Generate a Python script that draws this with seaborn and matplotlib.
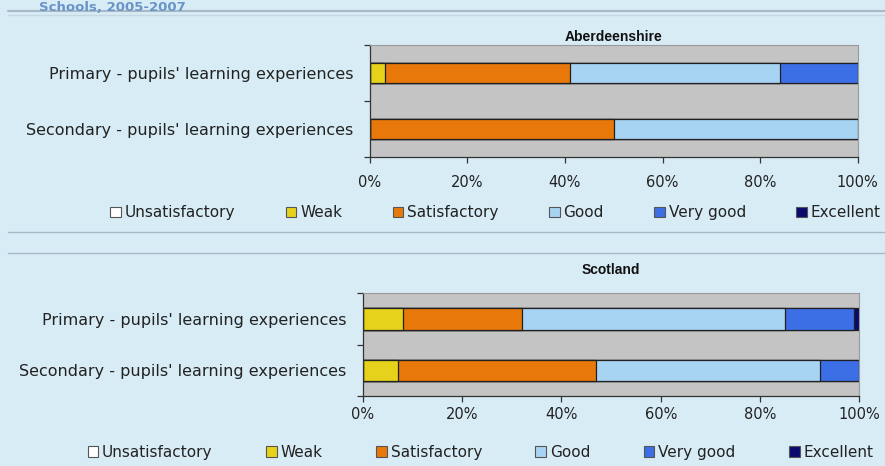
import matplotlib
matplotlib.use("Agg")
import matplotlib.pyplot as plt
from matplotlib.lines import Line2D
from matplotlib.patches import Patch
from matplotlib.ticker import PercentFormatter, FixedLocator
import seaborn as sns
import pandas as pd

categories = ["Primary - pupils' learning experiences",
              "Secondary - pupils' learning experiences"]
levels = ["Unsatisfactory", "Weak", "Satisfactory", "Good", "Very good", "Excellent"]
colors = ["#ffffff", "#e6d21a", "#e8780a", "#a8d4f4", "#3c6ee6", "#0a0a6e"]

# Aberdeenshire (%)
ab_unsat = [0, 0]
ab_weak = [3, 0]
ab_sat = [38, 50]
ab_good = [43, 50]
ab_vgood = [16, 0]
ab_exc = [0, 0]

# Scotland (%)
sc_unsat = [0, 0]
sc_weak = [8, 7]
sc_sat = [24, 40]
sc_good = [53, 45]
sc_vgood = [14, 8]
sc_exc = [1, 0]

sns.set_theme(style="white")
plt.rcParams["font.family"] = ["DejaVu Sans"]

bg = "#d8ecf6"
fig = plt.figure(figsize=(8.85, 4.66), dpi=100, facecolor=bg)


def stacked(ax, series, title, width, tpad, xpad):
    df = pd.DataFrame(dict(zip(levels, series)), index=categories)
    cum = df.cumsum(axis=1)
    # draw the cumulative totals back to front so they look stacked
    for lev, col in reversed(list(zip(levels, colors))):
        d = pd.DataFrame({"cat": categories, "val": cum[lev].values})
        sns.barplot(data=d, x="val", y="cat", orient="h", color=col, width=width,
                    edgecolor="#202020", linewidth=0.9, saturation=1, ax=ax)
    ax.set_facecolor("#c4c4c4")
    ax.set_xlim(0, 100)
    ax.set_ylim(1.5, -0.5)
    ax.set_xlabel("")
    ax.set_ylabel("")
    ax.set_xticks([0, 20, 40, 60, 80, 100])
    ax.xaxis.set_major_formatter(PercentFormatter(decimals=0))
    ax.yaxis.set_minor_locator(FixedLocator([-0.5, 0.5, 1.5]))
    ax.tick_params(axis="y", which="major", length=0, pad=12, labelsize=11.5, labelcolor="#222222")
    ax.tick_params(axis="y", which="minor", left=True, length=4, width=0.9, color="#333333")
    ax.tick_params(axis="x", bottom=True, length=4, width=0.9, color="#333333", pad=xpad,
                   labelsize=10.5, labelcolor="#222222")
    for s in ["left", "bottom"]:
        ax.spines[s].set_color("#333333")
        ax.spines[s].set_linewidth(0.9)
    for s in ["top", "right"]:
        ax.spines[s].set_color("#9a9a9a")
        ax.spines[s].set_linewidth(0.8)
    ax.set_title(title, fontsize=10, fontweight="bold", color="#111111", pad=tpad,
                 family=["Liberation Sans"])
    handles = [Patch(facecolor=c, edgecolor="#555555", linewidth=0.8) for c in colors]
    return handles


leg_kw = dict(loc="center", bbox_transform=fig.transFigure, ncol=6, frameon=False,
              fontsize=11, handlelength=0.7, handleheight=0.7, handletextpad=0.25,
              labelcolor="#222222")

ax1 = fig.add_axes([0.418, 0.663, 0.551, 0.240])
h = stacked(ax1, [ab_unsat, ab_weak, ab_sat, ab_good, ab_vgood, ab_exc], "Aberdeenshire", 0.36, 3, 9)
ax1.legend(h, levels, bbox_to_anchor=(0.56, 0.543), columnspacing=3.3, **leg_kw)

ax2 = fig.add_axes([0.410, 0.150, 0.561, 0.221])
h = stacked(ax2, [sc_unsat, sc_weak, sc_sat, sc_good, sc_vgood, sc_exc], "Scotland", 0.42, 14, 4)
ax2.legend(h, levels, bbox_to_anchor=(0.543, 0.030), columnspacing=3.5, **leg_kw)

# page decoration: heading remnant and separator rules
fig.text(0.21, 1 - 1 / 466, "Schools, 2005-2007", ha="right", va="top",
         fontsize=9.5, fontweight="bold", color="#6a94c8")
for y, c, lw in [(11, "#a8b8c4", 1.5), (15, "#c8d8e2", 1.0), (232, "#a8b8c4", 1.0), (253, "#a8b8c4", 1.0)]:
    fig.add_artist(Line2D([8 / 885, 1], [1 - y / 466] * 2, color=c, lw=lw, transform=fig.transFigure))

fig.savefig("out.png", dpi=100, facecolor=bg)
